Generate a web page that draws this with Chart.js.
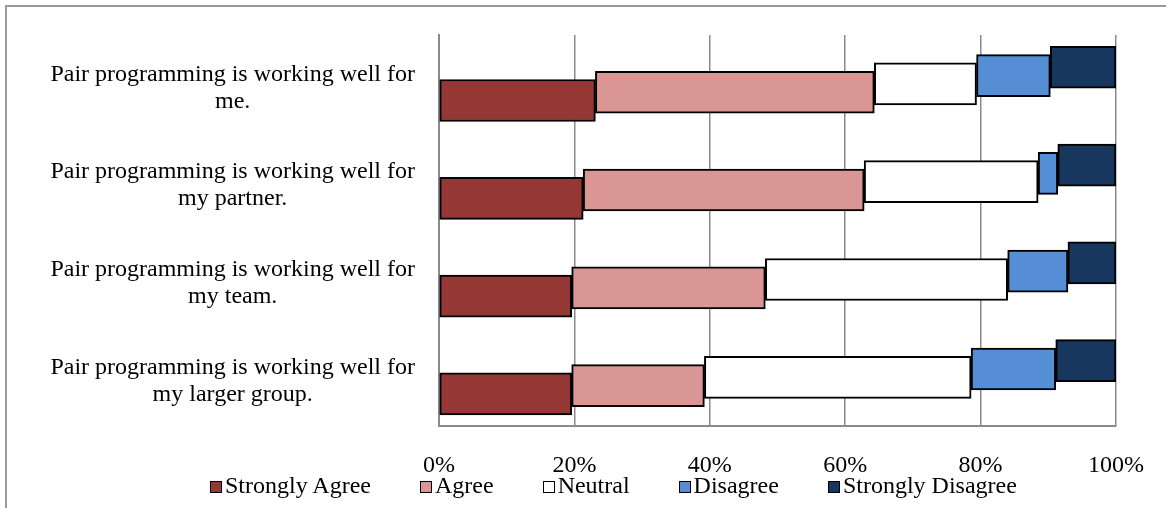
<!DOCTYPE html>
<html>
<head>
<meta charset="utf-8">
<title>Pair programming survey</title>
<script src="https://cdn.jsdelivr.net/npm/chart.js@4.4.1/dist/chart.umd.min.js"></script>
<style>
    html, body { margin: 0; padding: 0; background: #fff; overflow: hidden; }
    #frame { position: relative; width: 1166px; height: 508px; overflow: hidden; }
    #frameBorder { position: absolute; left: 5px; top: 5px; right: -10px; bottom: -10px; border: 2px solid #9a9a9a; }
    #chartBox { position: absolute; left: 0; top: 0; width: 1166px; height: 508px; }
    #legend {
        position: absolute; left: 210px; top: 471px;
        display: flex; gap: 49px;
        font-family: 'Liberation Serif', 'Times New Roman', serif; font-size: 24px; line-height: 28px; color: #000;
    }
    .legend-item { display: flex; align-items: center; white-space: nowrap; }
    .legend-swatch { width: 10px; height: 10px; border: 1.5px solid #000; margin-right: 3px; position: relative; top: 2px; }
</style>
</head>
<body>
<div id="frame">
    <div id="frameBorder"></div>
    <div id="chartBox"><canvas id="surveyChart"></canvas></div>
    <div id="legend"></div>
</div>
<script>
const categories = [
    ['Pair programming is working well for', 'me.'],
    ['Pair programming is working well for', 'my partner.'],
    ['Pair programming is working well for', 'my team.'],
    ['Pair programming is working well for', 'my larger group.']
];

const seriesNames = ['Strongly Agree', 'Agree', 'Neutral', 'Disagree', 'Strongly Disagree'];

// percent of answers per statement
const stronglyAgree = [23.1, 21.3, 19.6, 19.6];
const agree = [41.2, 41.5, 28.6, 19.6];
const neutral = [15.1, 25.7, 35.8, 39.4];
const disagree = [10.9, 2.9, 8.9, 12.5];
const stronglyDisagree = [9.7, 8.6, 7.1, 8.9];

const xTickValues = [0, 20, 40, 60, 80, 100];

const theme = {
    text: '#000000',
    grid: '#8a8a8a',
    outline: '#000000',
    fills: ['#953735', '#d99694', '#ffffff', '#558ed5', '#17375e']
};

// each series sits a little higher than the one before (flattened 3-D look)
const SERIES_STEP = 0.085;

Chart.defaults.color = theme.text;
Chart.defaults.font.family = "'Liberation Serif', 'Times New Roman', serif";
Chart.defaults.font.size = 24;

function buildDatasets() {
    const seriesValues = [stronglyAgree, agree, neutral, disagree, stronglyDisagree];
    const running = categories.map(() => 0);

    return seriesValues.map((values, k) => {
        const data = values.map((value, i) => {
            const start = running[i];
            running[i] += value;
            return { x: [start, running[i]], y: i + (2 - k) * SERIES_STEP };
        });

        return {
            label: seriesNames[k],
            data,
            backgroundColor: theme.fills[k],
            borderColor: theme.outline,
            borderWidth: 2,
            borderSkipped: false,
            barThickness: 42,
            grouped: false,
            xAxisID: 'x',
            yAxisID: 'yv'
        };
    });
}

function renderLegend() {
    const legend = document.getElementById('legend');
    legend.innerHTML = seriesNames.map((name, k) => `
        <div class="legend-item">
            <span class="legend-swatch" style="background:${theme.fills[k]}"></span>
            <span>${name}</span>
        </div>
    `).join('');
}

function renderChart() {
    const ctx = document.getElementById('surveyChart').getContext('2d');

    new Chart(ctx, {
        type: 'bar',
        data: {
            labels: categories,
            datasets: buildDatasets()
        },
        options: {
            indexAxis: 'y',
            responsive: true,
            maintainAspectRatio: false,
            animation: false,
            layout: {
                padding: { left: 0, right: 50, top: 35, bottom: 3 }
            },
            plugins: {
                legend: { display: false },
                tooltip: { enabled: false }
            },
            scales: {
                x: {
                    type: 'linear',
                    position: 'bottom',
                    min: xTickValues[0],
                    max: xTickValues[xTickValues.length - 1],
                    afterBuildTicks: (axis) => {
                        axis.ticks = xTickValues.map((value) => ({ value }));
                    },
                    afterFit: (axis) => {
                        // the right margin is set by layout padding alone
                        axis.paddingLeft = 0;
                        axis.paddingRight = 0;
                    },
                    grid: {
                        color: theme.grid,
                        lineWidth: 1.5,
                        drawTicks: false
                    },
                    border: { display: true, color: theme.grid, width: 2 },
                    ticks: {
                        padding: 25,
                        color: theme.text,
                        callback: (value) => `${value}%`
                    }
                },
                y: {
                    type: 'category',
                    position: 'left',
                    offset: true,
                    grid: { display: false, drawTicks: false },
                    border: { display: true, color: theme.grid, width: 2 },
                    afterFit: (axis) => {
                        // labels sit mid-band, so no extra room above/below is needed
                        axis.width = 439;
                        axis.paddingTop = 0;
                        axis.paddingBottom = 0;
                    },
                    ticks: {
                        crossAlign: 'center',
                        padding: 24,
                        labelOffset: 4,
                        color: theme.text,
                        font: { lineHeight: 1.125 }
                    }
                },
                yv: {
                    type: 'linear',
                    axis: 'y',
                    position: 'left',
                    display: false,
                    offset: false,
                    reverse: true,
                    min: -0.5,
                    max: categories.length - 0.5,
                    grid: { offset: false }
                }
            }
        }
    });
}

document.addEventListener('DOMContentLoaded', () => {
    renderLegend();
    renderChart();
});
</script>
</body>
</html>
